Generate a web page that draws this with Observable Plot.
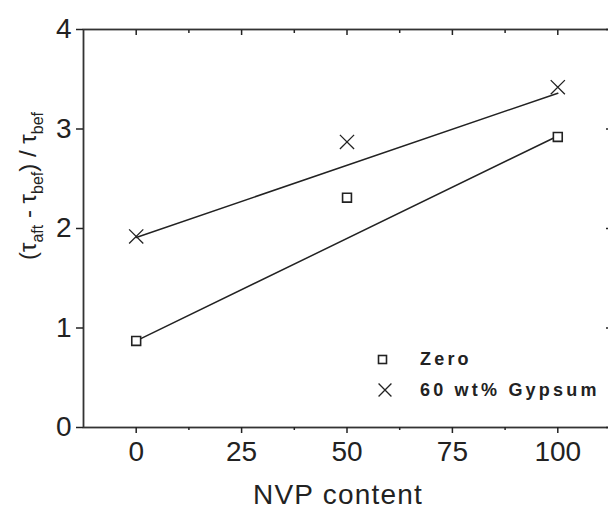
<!DOCTYPE html>
<html><head><meta charset="utf-8">
<script src="https://cdn.jsdelivr.net/npm/d3@7"></script>
<script src="https://cdn.jsdelivr.net/npm/@observablehq/plot@0.6"></script>
<style>
html,body{margin:0;padding:0;background:#fff;overflow:hidden;}
#wrap{position:relative;width:608px;height:510px;overflow:hidden;}
.legend{position:absolute;left:0;top:0;font-family:"Liberation Sans",Arial,sans-serif;font-weight:bold;font-size:18px;letter-spacing:3.2px;color:#222;white-space:nowrap;}
</style></head><body><div id="wrap"></div>
<script>
// ---- data ----
const nvp = [0, 50, 100];
const zeroValues = [0.87, 2.31, 2.92];
const gypsumValues = [1.92, 2.87, 3.42];
const fitX = [0, 100];
const zeroFit = [0.87, 2.93];
const gypsumFit = [1.91, 3.36];
const seriesNames = ["Zero", "60 wt% Gypsum"];
const xTicks = [0, 25, 50, 75, 100];
const xMinorTicks = [12.5, 37.5, 62.5, 87.5];
const yTicks = [0, 1, 2, 3, 4];
const xDomain = [-12.5, 112.5];
const yDomain = [0, 4];
const xLabel = "NVP content";

// ---- build tables ----
const zeroPts = nvp.map((x, i) => ({x, y: zeroValues[i]}));
const gypPts = nvp.map((x, i) => ({x, y: gypsumValues[i]}));
const zeroLine = fitX.map((x, i) => ({x, y: zeroFit[i]}));
const gypLine = fitX.map((x, i) => ({x, y: gypsumFit[i]}));

const ink = "#222";
const axisFont = {fontSize: 28, fontFamily: "Liberation Sans, Arial, sans-serif", fill: ink};
const intFmt = d3.format("d");

const plot = Plot.plot({
  width: 608,
  height: 510,
  marginLeft: 83,
  marginRight: -2,
  marginTop: 29,
  marginBottom: 83,
  style: {background: "white", color: ink, fontFamily: "Liberation Sans, Arial, sans-serif"},
  x: {domain: xDomain},
  y: {domain: yDomain},
  marks: [
    Plot.frame({stroke: "#333", strokeWidth: 1.8}),
    Plot.axisX({ticks: xTicks, tickSize: 6, tickPadding: 8, tickFormat: intFmt, label: null, strokeWidth: 1.5, ...axisFont}),
    Plot.axisX({ticks: xMinorTicks, tickSize: 3, tickFormat: () => "", label: null, strokeWidth: 1.5}),
    Plot.axisX({anchor: "top", ticks: xTicks, tickSize: -5, tickFormat: () => "", label: null, strokeWidth: 1.5}),
    Plot.axisX({anchor: "top", ticks: xMinorTicks, tickSize: -3, tickFormat: () => "", label: null, strokeWidth: 1.5}),
    Plot.axisY({ticks: yTicks, tickSize: 7, tickPadding: 5, tickFormat: intFmt, label: null, strokeWidth: 1.5, ...axisFont}),
    Plot.axisY({anchor: "right", ticks: yTicks, tickSize: -5, tickFormat: () => "", label: null, strokeWidth: 1.5}),
    Plot.line(zeroLine, {x: "x", y: "y", stroke: ink, strokeWidth: 1.5}),
    Plot.line(gypLine, {x: "x", y: "y", stroke: ink, strokeWidth: 1.5}),
    Plot.dot(zeroPts, {x: "x", y: "y", symbol: "square", r: 5, fill: "white", stroke: ink, strokeWidth: 1.6}),
    Plot.dot(gypPts, {x: "x", y: "y", symbol: "times", r: 6.5, stroke: ink, strokeWidth: 1.3})
  ]
});

const wrap = document.getElementById("wrap");
wrap.appendChild(plot);

// axis titles
const svg = d3.select(plot);
svg.append("text")
  .attr("x", 338).attr("y", 504)
  .attr("text-anchor", "middle")
  .attr("font-family", "Liberation Sans, Arial, sans-serif")
  .attr("font-size", 28).attr("letter-spacing", 1.2)
  .attr("fill", ink)
  .text(xLabel);

const yl = svg.append("text")
  .attr("transform", "translate(36,186) rotate(-90)")
  .attr("text-anchor", "middle")
  .attr("font-family", "Liberation Sans, Arial, sans-serif")
  .attr("font-size", 24)
  .attr("fill", ink);
const parts = [["(\u03C4", false], ["aft", true], [" - \u03C4", false], ["bef", true], [") / \u03C4", false], ["bef", true]];
let shifted = false;
for (const [t, sub] of parts) {
  const ts = yl.append("tspan").text(t);
  if (sub) { ts.attr("font-size", 16).attr("dy", shifted ? 0 : 7); shifted = true; }
  else { ts.attr("dy", shifted ? -7 : 0); shifted = false; }
}

// legend
const legendItems = [
  {name: seriesNames[0], symbol: "square", top: 349},
  {name: seriesNames[1], symbol: "times", top: 380}
];
for (const item of legendItems) {
  const row = document.createElement("div");
  row.className = "legend";
  row.style.left = "373px";
  row.style.top = item.top + "px";
  row.style.display = "flex";
  row.style.alignItems = "center";
  const sw = d3.create("svg").attr("width", 20).attr("height", 20).style("margin-right", "27px");
  if (item.symbol === "square") {
    sw.append("rect").attr("x", 5.5).attr("y", 5.5).attr("width", 8).attr("height", 8)
      .attr("fill", "white").attr("stroke", ink).attr("stroke-width", 1.6);
  } else {
    sw.append("path").attr("d", d3.symbol(d3.symbolTimes, 110)()).attr("transform", "translate(12,9)")
      .attr("fill", "none").attr("stroke", ink).attr("stroke-width", 1.3);
  }
  row.appendChild(sw.node());
  const label = document.createElement("span");
  label.textContent = item.name;
  row.appendChild(label);
  wrap.appendChild(row);
}
</script>
</body></html>
